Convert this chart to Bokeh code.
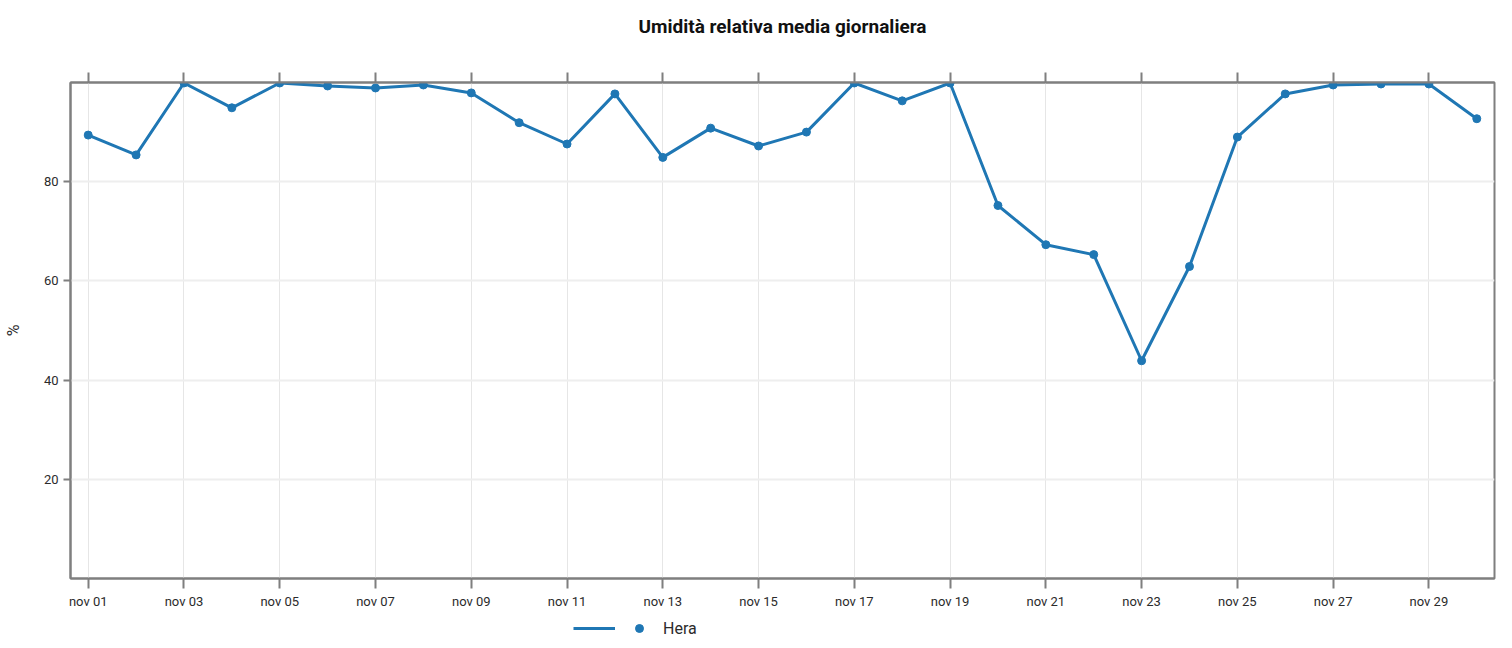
from bokeh.plotting import figure
from bokeh.layouts import column
from bokeh.models import FixedTicker, LinearAxis, Legend, LegendItem, Range1d, Grid
from bokeh.embed import file_html
from bokeh.resources import INLINE

# ---- data ----
days = list(range(1, 31))
humidity = [89.4, 85.4, 99.9, 94.9, 99.9, 99.3, 98.9, 99.5, 97.9, 91.9,
            87.6, 97.7, 84.9, 90.8, 87.2, 90.0, 99.9, 96.3, 99.9, 75.2,
            67.3, 65.3, 43.9, 62.9, 89.0, 97.7, 99.5, 99.7, 99.7, 92.7]
tick_days = [1, 3, 5, 7, 9, 11, 13, 15, 17, 19, 21, 23, 25, 27, 29]
tick_labels = ["nov 01", "nov 03", "nov 05", "nov 07", "nov 09", "nov 11",
               "nov 13", "nov 15", "nov 17", "nov 19", "nov 21", "nov 23",
               "nov 25", "nov 27", "nov 29"]
y_ticks = [20, 40, 60, 80]
series_name = "Hera"
title_text = "Umidità relativa media giornaliera"
y_label = "%"

FONT = "Roboto"
AXIS_COL = "#7f7f7f"
LINE_COL = "#1f77b4"
TXT_COL = "#2b2b2b"

p = figure(width=1496, height=614,
           x_range=Range1d(days[0] - 0.37, days[-1] + 0.37),
           y_range=Range1d(0, 100),
           output_backend="svg", toolbar_location=None,
           title=title_text,
           min_border_left=62, min_border_right=2,
           min_border_top=82, min_border_bottom=36,
           x_axis_type=None, y_axis_type=None)

p.title.align = "center"
p.title.text_font = FONT
p.title.text_font_size = "19px"
p.title.text_font_style = "bold"
p.title.text_color = "#111111"
p.title.standoff = 0

p.outline_line_color = AXIS_COL
p.outline_line_width = 2

# grids
p.add_layout(Grid(dimension=0, ticker=FixedTicker(ticks=tick_days),
                  grid_line_color="#e6e6e6", grid_line_width=1))
p.add_layout(Grid(dimension=1, ticker=FixedTicker(ticks=y_ticks),
                  grid_line_color="#eeeeee", grid_line_width=2))

# bottom axis
xb = LinearAxis(ticker=FixedTicker(ticks=tick_days),
                major_label_overrides=dict(zip(tick_days, tick_labels)))
# top axis (ticks only, labels not drawn)
xt = LinearAxis(ticker=FixedTicker(ticks=tick_days))
xt.major_label_text_color = None
xt.major_label_standoff = 0
for ax in (xb, xt):
    ax.axis_line_color = AXIS_COL
    ax.axis_line_width = 2
    ax.major_tick_line_color = AXIS_COL
    ax.major_tick_line_width = 2
    ax.major_tick_out = 10
    ax.major_tick_in = 0
    ax.minor_tick_line_color = None
xb.major_label_text_font = FONT
xb.major_label_text_font_size = "13px"
xb.major_label_text_color = TXT_COL
xb.major_label_standoff = 5
p.add_layout(xb, "below")
p.add_layout(xt, "above")

# invisible spacer between the top ticks and the title
spacer = LinearAxis(ticker=FixedTicker(ticks=tick_days),
                    axis_line_color=None, major_tick_line_color=None,
                    minor_tick_line_color=None, major_tick_out=35, major_tick_in=0,
                    major_label_text_color=None, major_label_standoff=0)
p.add_layout(spacer, "above")

# left axis
yl = LinearAxis(ticker=FixedTicker(ticks=y_ticks), axis_label=y_label)
yl.axis_line_color = AXIS_COL
yl.axis_line_width = 2
yl.major_tick_line_color = AXIS_COL
yl.major_tick_line_width = 2
yl.major_tick_out = 7
yl.major_tick_in = 0
yl.minor_tick_line_color = None
yl.major_label_text_font = FONT
yl.major_label_text_font_size = "13px"
yl.major_label_text_color = TXT_COL
yl.major_label_standoff = 5
yl.axis_label_text_font = FONT
yl.axis_label_text_font_size = "16px"
yl.axis_label_text_font_style = "normal"
yl.axis_label_text_color = TXT_COL
yl.axis_label_standoff = 18
p.add_layout(yl, "left")

p.line(days, humidity, line_width=3, color=LINE_COL)
p.scatter(days, humidity, size=8, color=LINE_COL)

# ---- legend strip (separate figure, glyphs kept out of view) ----
p2 = figure(width=1496, height=26, x_range=Range1d(-2, -1), y_range=Range1d(-2, -1),
            output_backend="svg", toolbar_location=None, title=None,
            min_border=0, min_border_left=0, min_border_right=0,
            min_border_top=0, min_border_bottom=0,
            x_axis_type=None, y_axis_type=None)
p2.outline_line_color = None
leg_line = p2.line(days, humidity, line_width=3, color=LINE_COL)
leg_dot = p2.scatter(days, humidity, size=8, color=LINE_COL)

legend = Legend(items=[LegendItem(label=" ", renderers=[leg_line]),
                       LegendItem(label=series_name, renderers=[leg_dot])],
                orientation="horizontal", location=(503, 2),
                glyph_width=42, glyph_height=20, label_width=0, label_height=20,
                label_standoff=3, spacing=0, padding=0, margin=0,
                border_line_color=None, background_fill_alpha=0,
                label_text_font=FONT, label_text_font_size="16px",
                label_text_color=TXT_COL)
p2.add_layout(legend, "center")

layout = column(p, p2, spacing=0)
open("out.html", "w").write(file_html(layout, INLINE))
